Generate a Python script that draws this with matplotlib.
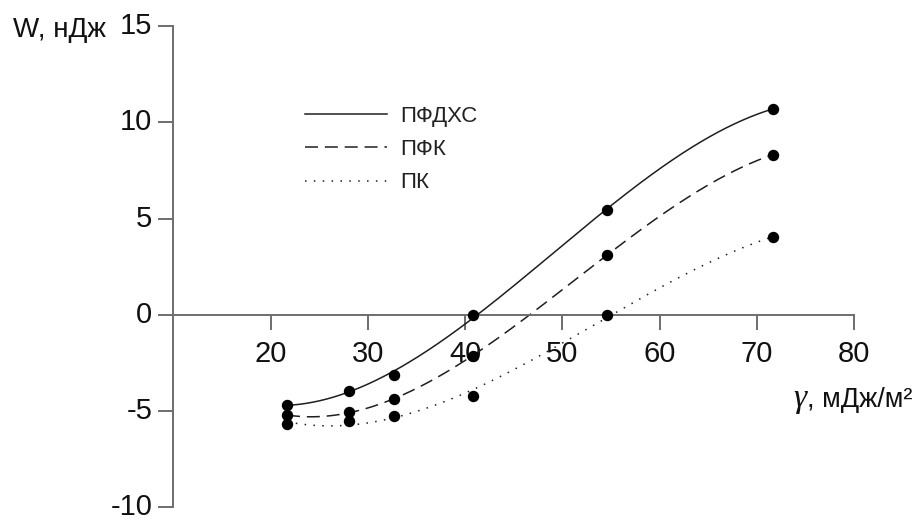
import numpy as np
import matplotlib
matplotlib.use("Agg")
import matplotlib.pyplot as plt

plt.rcParams['font.family'] = ['Liberation Sans', 'DejaVu Sans']

# data
gamma = [21.7, 28.1, 32.7, 40.8, 54.6, 71.7]
w_pfdhs = [-4.69, -3.97, -3.11, 0.0, 5.44, 10.72]
w_pfk = [-5.24, -5.04, -4.38, -2.15, 3.12, 8.33]
w_pk = [-5.69, -5.52, -5.26, -4.21, 0.0, 4.04]
series_names = ['ПФДХС', 'ПФК', 'ПК']
x_ticks = [20, 30, 40, 50, 60, 70, 80]
y_ticks = [-10, -5, 0, 5, 10, 15]

W, H = 920, 520
fig = plt.figure(figsize=(W / 100, H / 100), dpi=100)
ax = fig.add_axes([173.3 / W, 1 - 507 / H, (854 - 173.3) / W, (507 - 26.3) / H])
ax.set_xlim(10, 80)
ax.set_ylim(-10, 15)

line_col = '#1f1f1f'
axis_col = '#6e6e6e'
styles = [
    dict(linestyle='-'),
    dict(linestyle=(0, (8.5, 4.5))),
    dict(linestyle=(0, (1, 4.8))),
]
handles = []
for vals, name, st in zip([w_pfdhs, w_pfk, w_pk], series_names, styles):
    x = np.asarray(gamma)
    y = np.asarray(vals)
    coef = np.polyfit(x, y, 3)
    xs = np.linspace(x.min(), x.max(), 300)
    ys = np.polyval(coef, xs)
    h, = ax.plot(xs, ys, color=line_col, lw=1.1, label=name, **st)
    handles.append(h)
    ax.plot(x, y, 'o', color='black', ms=7.2, zorder=5)

# axes styling
for s in ['top', 'right']:
    ax.spines[s].set_visible(False)
ax.spines['bottom'].set_position(('data', 0))
for s in ['left', 'bottom']:
    ax.spines[s].set_color(axis_col)
    ax.spines[s].set_linewidth(1.4)
ax.set_xticks(x_ticks)
ax.set_yticks(y_ticks)
ax.set_xticklabels([str(t) for t in x_ticks])
ax.set_yticklabels([str(t) for t in y_ticks])
ax.tick_params(axis='x', direction='out', length=11, width=1.4, color=axis_col,
               labelsize=21, pad=7, labelcolor='#111111')
ax.tick_params(axis='y', direction='out', length=11, width=1.4, color=axis_col,
               labelsize=21, pad=4, labelcolor='#111111')
for lbl in ax.get_yticklabels():
    lbl.set_va('center')
ax.patch.set_alpha(0)

leg = ax.legend(handles=handles, loc='upper left',
                bbox_to_anchor=(305 / W, 1 - 106 / H), bbox_transform=fig.transFigure,
                frameon=False, fontsize=16, handlelength=3.7, handletextpad=0.6,
                labelspacing=0.55, borderpad=0, borderaxespad=0)
for t in leg.get_texts():
    t.set_color('#222222')

# axis labels
fig.text(13 / W, 1 - 37 / H, 'W, нДж', fontsize=20, color='#111111',
         ha='left', va='baseline')
fig.text(793 / W, 1 - 407 / H, 'γ', fontsize=24, family=['Liberation Serif', 'DejaVu Serif'],
         style='italic', color='#111111', ha='left', va='baseline')
fig.text(807 / W, 1 - 407 / H, ', мДж/м²', fontsize=19.5, color='#111111',
         ha='left', va='baseline')

fig.savefig('out.png', dpi=100, facecolor='white')
